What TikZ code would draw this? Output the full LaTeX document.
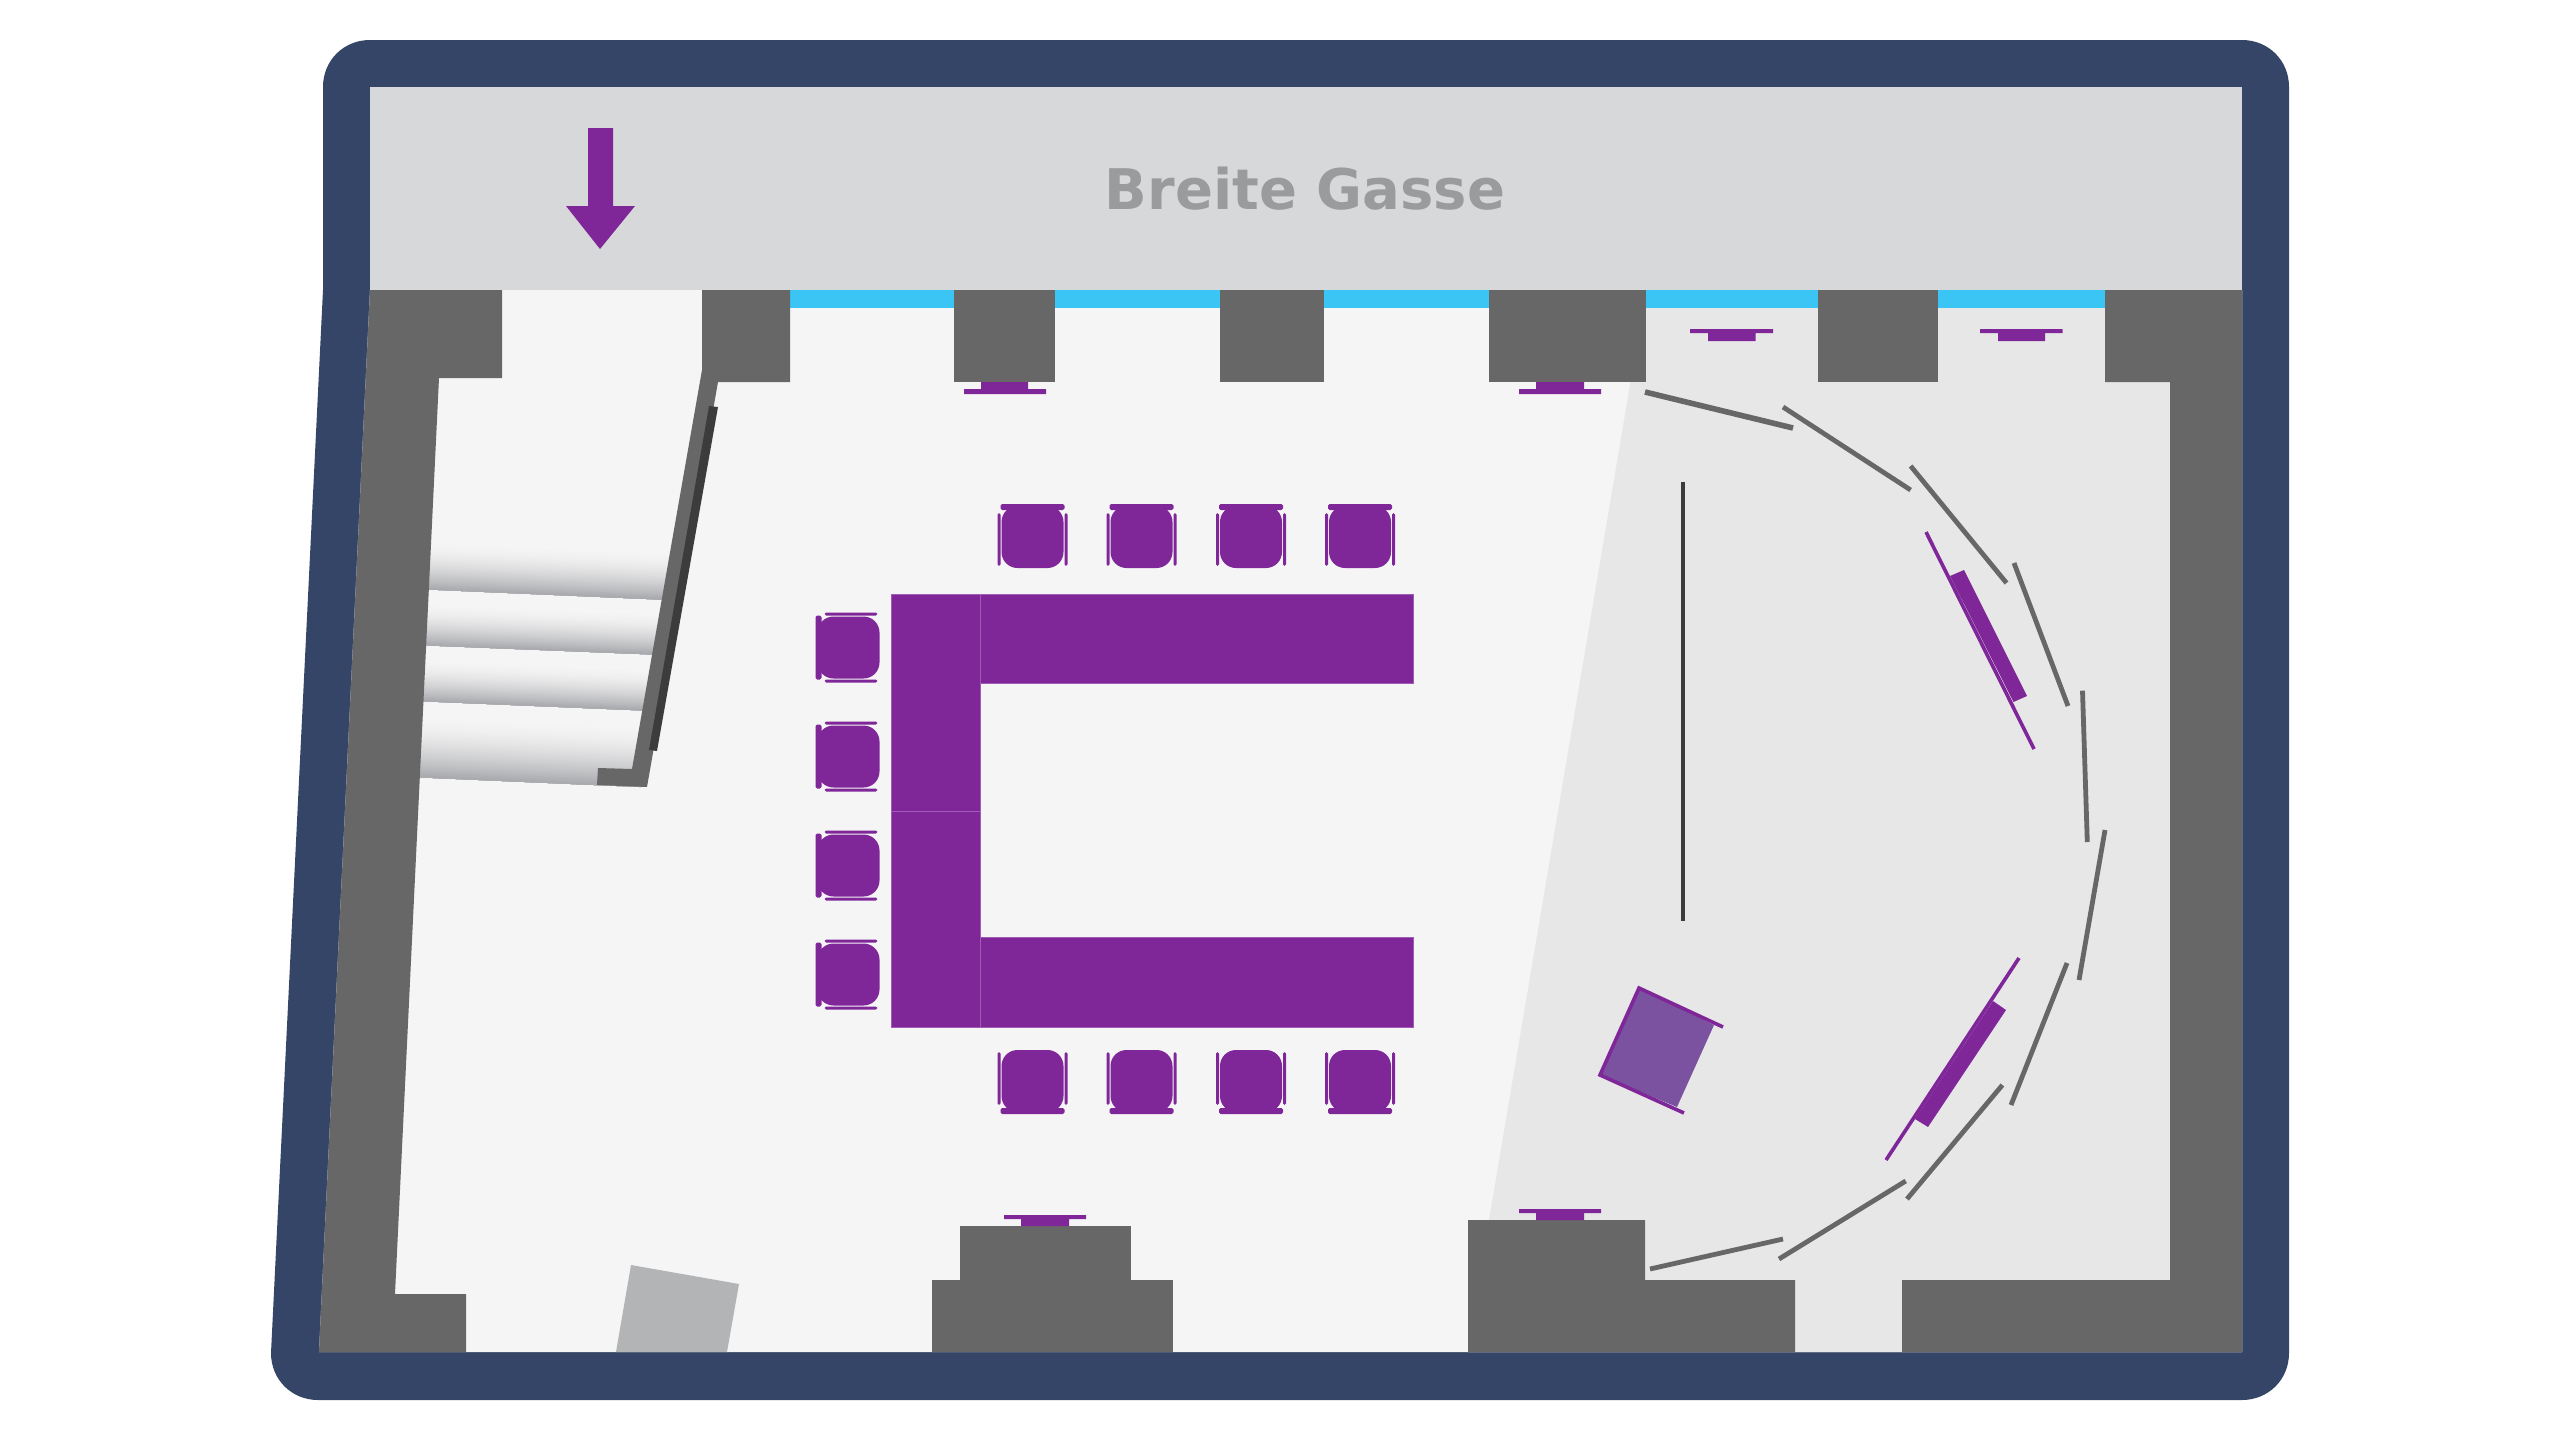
\documentclass[tikz,border=0pt]{standalone}
\usepackage{fontspec}
\setmainfont{DejaVu Sans}
\definecolor{navy}{HTML}{354567}
\definecolor{street}{HTML}{D7D8DA}
\definecolor{floorc}{HTML}{F5F5F5}
\definecolor{stage}{HTML}{E7E7E7}
\definecolor{wall}{HTML}{676767}
\definecolor{darkline}{HTML}{3C3C3C}
\definecolor{glass}{HTML}{3AC5F5}
\definecolor{purp}{HTML}{7F2699}
\definecolor{purpedge}{HTML}{A05CB5}
\definecolor{purpsoft}{HTML}{7B52A0}
\definecolor{doorgray}{HTML}{B3B4B6}
\definecolor{stepdark}{HTML}{A5A6AA}
\definecolor{labelgray}{HTML}{9A9B9D}
\tikzset{
  wallshape/.style={fill=wall},
  purpfill/.style={fill=purp},
  tablebox/.style={fill=purp,draw=purpedge,line width=0.5pt},
  curtain/.style={draw=wall,line width=2.4pt},
  screenline/.style={draw=purp,line width=1.8pt},
  chairseat/.style={fill=purp,rounded corners=8pt},
  chairbar/.style={fill=purp,rounded corners=0.8pt},
}
\newcommand{\chairat}[3]{%
  \begin{scope}[shift={(#1,#2)},rotate=#3]
    \path[chairseat] (-31,-32) rectangle (31,30);
    \path[chairbar] (-32,-34) rectangle (32,-28);
    \path[chairbar] (-35,-25) rectangle (-32,28);
    \path[chairbar] (32,-25) rectangle (35,28);
  \end{scope}}
\newcommand{\stepband}[5]{%
  \foreach \i in {0,...,29}{%
    \pgfmathsetmacro\tt{\i/29}%
    \pgfmathsetmacro\pc{100*pow(\tt,1.7)}%
    \pgfmathsetmacro\up{#5*(1-\tt)}%
    \fill[stepdark!\pc!floorc] ({#1},{#2-\up}) -- ({#3},{#4-\up}) -- (#3,#4) -- (#1,#2) -- cycle;
  }}
\begin{document}
\begin{tikzpicture}[x=0.5pt,y=-0.5pt]
\useasboundingbox (0,0) rectangle (2560,1440);
\fill[white] (0,0) rectangle (2560,1440);
% outer frame
\fill[navy] (323,87) .. controls (323,60) and (344,40) .. (370,40) -- (2242,40)
  .. controls (2268,40) and (2289,60) .. (2289,87) -- (2289,1353)
  .. controls (2289,1380) and (2268,1400) .. (2242,1400) -- (318,1400)
  .. controls (292,1400) and (271,1380) .. (271,1353) -- (323,290) -- cycle;
% floor and street
\fill[floorc] (370,290) -- (2242,290) -- (2242,1352) -- (319,1352) -- cycle;
\fill[street] (370,87) rectangle (2242,290);
\fill[stage] (1646,290) -- (2242,290) -- (2242,1352) -- (1468,1352) -- (1489,1220) -- cycle;
\fill[glass] (790,290) rectangle (2105,308);
% stairs
\stepband{415}{589}{670}{600}{48}
\stepband{415}{645}{665}{655}{42}
\stepband{415}{701}{655}{711}{42}
\stepband{410}{777}{640}{787}{62}
% walls
\path[wallshape] (370,290) -- (502,290) -- (502,378) -- (439,378) -- (395,1294) -- (466,1294) -- (466,1352) -- (319,1352) -- cycle;
\path[wallshape] (2105,290) -- (2242,290) -- (2242,1352) -- (1902,1352) -- (1902,1280) -- (2170,1280) -- (2170,382) -- (2105,382) -- cycle;
\path[wallshape] (702,290) -- (790,290) -- (790,382) -- (718,382) -- (647,787) -- (597,785) -- (598,768) -- (632,769) -- (702,370) -- cycle;
\path[wallshape] (954,290) rectangle (1055,382);
\path[wallshape] (1220,290) rectangle (1324,382);
\path[wallshape] (1489,290) rectangle (1646,382);
\path[wallshape] (1818,290) rectangle (1938,382);
\path[wallshape] (932,1280) rectangle (1173,1352);
\path[wallshape] (960,1226) rectangle (1130.5,1280);
\path[wallshape] (1468,1220) -- (1645,1220) -- (1645,1280) -- (1795,1280) -- (1795,1352) -- (1468,1352) -- cycle;
\fill[darkline] (709,406) -- (718,407) -- (657,751) -- (649,750) -- cycle;
\fill[doorgray] (631,1265) -- (739,1284) -- (727,1352) -- (616,1352) -- cycle;
% entrance arrow
\path[purpfill] (588,128) -- (613,128) -- (613,206) -- (635,206) -- (600,249) -- (566,206) -- (588,206) -- cycle;
% street label
\node[font=\fontsize{28pt}{30pt}\selectfont\bfseries,text=labelgray,inner sep=0pt] (gasse) at (1305,189) {Breite Gasse};
% wall-mounted fixtures
\path[purpfill] (981,382) rectangle (1028,389) (964,389) rectangle (1046,394);
\path[purpfill] (1536,382) rectangle (1584,389) (1519,389) rectangle (1601,394);
\path[purpfill] (1708,333) rectangle (1755.5,341) (1690,329) rectangle (1773,333);
\path[purpfill] (1998,333) rectangle (2045,341) (1980,329) rectangle (2062.5,333);
\path[purpfill] (1536,1213) rectangle (1584,1220) (1519,1209) rectangle (1601,1213);
\path[purpfill] (1021,1219) rectangle (1069,1226) (1004,1215) rectangle (1086,1219);
% tables
\path[tablebox] (980,594) rectangle (1413.5,683);
\path[tablebox] (980,937) rectangle (1413.5,1027);
\path[tablebox] (891,594) rectangle (980,811.5);
\path[tablebox] (891,811.5) rectangle (980,1027);
% chairs
\foreach \cx in {1032.5,1141.5,1251,1360}{\chairat{\cx}{538}{0}}
\foreach \cx in {1032.5,1141.5,1251,1360}{\chairat{\cx}{1080}{180}}
\foreach \cy in {647.5,756.5,865.5,974.5}{\chairat{849.5}{\cy}{90}}
% dark partition
\draw[darkline,line width=2pt] (1683,482) -- (1683,921);
% curtain segments
\draw[curtain,line width=2.8pt] (1645,392) -- (1793,428);
\draw[curtain] (1783,407) -- (1910.6,490);
\draw[curtain] (1910.6,466) -- (2006.5,583);
\draw[curtain] (2014,563) -- (2068,706);
\draw[curtain] (2082.5,690.7) -- (2087.3,842);
\draw[curtain] (2105,830) -- (2079,980);
\draw[curtain] (2067,963) -- (2011,1105);
\draw[curtain] (2002.4,1085) -- (1907,1199);
\draw[curtain] (1905.7,1181) -- (1779,1259);
\draw[curtain] (1783,1239) -- (1650,1269);
% screens
\draw[screenline] (1926,532) -- (2034,749);
\path[purpfill] (1950,576) -- (1964,570) -- (2027,696) -- (2013.5,702) -- cycle;
\draw[screenline] (2019,958) -- (1886,1160);
\path[purpfill] (1993,1001) -- (2006,1010) -- (1928,1127) -- (1915,1119) -- cycle;
% stage box
\fill[purpsoft] (1639,988) -- (1714,1025) -- (1677,1107) -- (1600,1075) -- cycle;
\draw[screenline] (1723,1027) -- (1639,988) -- (1600,1075) -- (1684,1113);
\end{tikzpicture}
\end{document}
